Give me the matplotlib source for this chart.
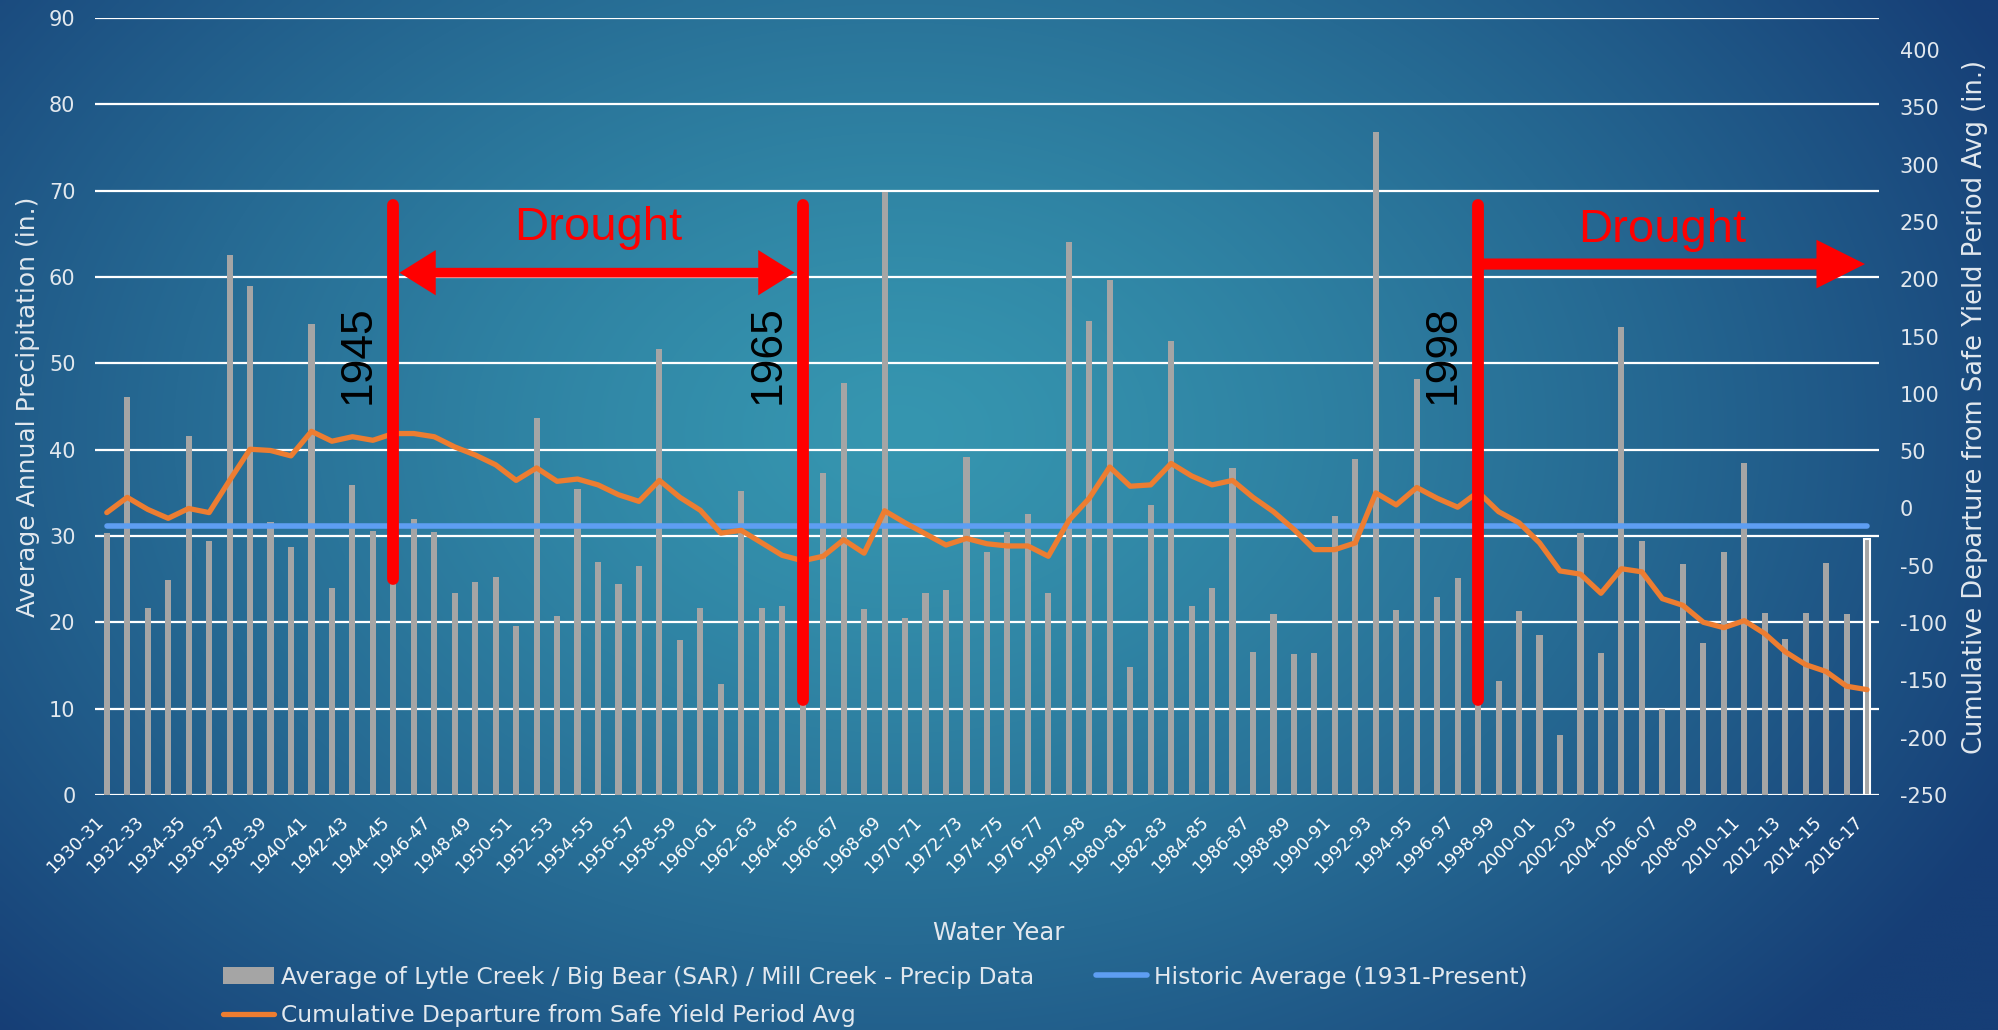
import numpy as np
import matplotlib
matplotlib.use("Agg")
import matplotlib.pyplot as plt

# =========================
# 1. Data
# =========================
# note: the source chart labels the 1978-79 slot as "1997-98", kept as is
WATER_YEARS = [
    "1930-31", "1931-32", "1932-33", "1933-34", "1934-35", "1935-36", "1936-37", "1937-38",
    "1938-39", "1939-40", "1940-41", "1941-42", "1942-43", "1943-44", "1944-45", "1945-46",
    "1946-47", "1947-48", "1948-49", "1949-50", "1950-51", "1951-52", "1952-53", "1953-54",
    "1954-55", "1955-56", "1956-57", "1957-58", "1958-59", "1959-60", "1960-61", "1961-62",
    "1962-63", "1963-64", "1964-65", "1965-66", "1966-67", "1967-68", "1968-69", "1969-70",
    "1970-71", "1971-72", "1972-73", "1973-74", "1974-75", "1975-76", "1976-77", "1977-78",
    "1997-98", "1979-80", "1980-81", "1981-82", "1982-83", "1983-84", "1984-85", "1985-86",
    "1986-87", "1987-88", "1988-89", "1989-90", "1990-91", "1991-92", "1992-93", "1993-94",
    "1994-95", "1995-96", "1996-97", "1997-98", "1998-99", "1999-00", "2000-01", "2001-02",
    "2002-03", "2003-04", "2004-05", "2005-06", "2006-07", "2007-08", "2008-09", "2009-10",
    "2010-11", "2011-12", "2012-13", "2013-14", "2014-15", "2015-16", "2016-17",
]

PRECIP = [
    30.4, 46.1, 21.7, 24.9, 41.6, 29.4, 62.6, 59.0, 31.6, 28.7,
    54.5, 24.0, 35.9, 30.6, 38.0, 32.0, 30.5, 23.4, 24.7, 25.3,
    19.6, 43.7, 20.7, 35.4, 27.0, 24.4, 26.5, 51.7, 18.0, 21.6,
    12.9, 35.2, 21.6, 21.9, 28.0, 37.3, 47.7, 21.5, 69.8, 20.5,
    23.4, 23.7, 39.2, 28.2, 30.5, 32.5, 23.4, 64.0, 54.9, 59.7,
    14.8, 33.6, 52.6, 21.9, 24.0, 37.9, 16.6, 21.0, 16.3, 16.4,
    32.3, 38.9, 76.8, 21.4, 48.2, 22.9, 25.1, 45.7, 13.2, 21.3,
    18.5, 7.0, 30.4, 16.5, 54.2, 29.4, 9.9, 26.8, 17.6, 28.2,
    38.5, 21.1, 18.1, 21.1, 26.9, 21.0, 29.7,
]

CUM_DEPARTURE = [
    -3.6, 9.7, -0.8, -8.6, 0.0, -3.6, 24.5, 51.7, 50.6, 45.9,
    67.3, 58.7, 62.6, 59.5, 65.4, 65.4, 62.6, 53.7, 46.7, 38.1,
    24.5, 35.4, 23.7, 25.7, 20.6, 12.0, 6.2, 24.5, 9.7, -1.6,
    -21.5, -19.1, -30.0, -40.9, -45.6, -41.7, -27.3, -39.0, -2.0, -12.5,
    -22.2, -31.9, -26.1, -30.8, -32.7, -32.7, -41.7, -10.5, 8.9, 36.2,
    19.4, 20.6, 39.3, 28.4, 20.6, 24.5, 9.7, -2.8, -18.3, -35.9,
    -35.9, -30.0, 13.6, 3.1, 18.3, 8.9, 1.1, 14.4, -2.8, -12.5,
    -30.0, -54.5, -57.3, -74.0, -52.6, -55.3, -78.7, -84.5, -99.3, -104.0,
    -97.9, -109.2, -125.0, -136.3, -142.3, -155.1, -158.1,
]

HISTORIC_AVG = 31.1

# drought markers: label, category slot of the marker, bottom of the marker (left-axis units)
MARKER_YEARS = ["1945", "1965", "1998"]
MARKER_SLOTS = [14, 34, 67]
MARKER_BOTTOM = [25.0, 11.0, 11.0]

LABEL_BARS = "Average of Lytle Creek / Big Bear (SAR) / Mill Creek - Precip Data"
LABEL_AVG = "Historic Average (1931-Present)"
LABEL_CUM = "Cumulative Departure from Safe Yield Period Avg"

# =========================
# 2. Style
# =========================
plt.rcParams["font.family"] = "DejaVu Sans"
plt.rcParams["axes.unicode_minus"] = False

BAR_COLOR = "#A5A5A5"
ORANGE = "#ED7D31"
BLUE = "#5E9EF2"
TXT = "#E2E8EE"
ANNOT_FONT = ["Liberation Sans", "DejaVu Sans"]

fig = plt.figure(figsize=(19.98, 10.30), dpi=100)
fig.patch.set_facecolor("#1B4A80")

# gradient slide background
yy, xx = np.mgrid[0:1:260j, 0:1:500j]
d = np.sqrt(((xx - 0.45) / 0.62) ** 2 + ((yy - 0.42) / 0.85) ** 2)
t = np.clip(d, 0, 1) ** 1.3
light = np.array([54, 150, 176]) / 255
dark = np.array([22, 62, 118]) / 255
img = light * (1 - t[..., None]) + dark * t[..., None]
bg = fig.add_axes([0, 0, 1, 1], zorder=-10)
bg.imshow(img, aspect="auto", extent=[0, 1, 0, 1], interpolation="bilinear")
bg.axis("off")

# =========================
# 3. Chart
# =========================
ax = fig.add_axes([0.0475, 0.2282, 0.8929, 0.7543], zorder=1)
ax.set_facecolor("none")
x = np.arange(len(WATER_YEARS))

bars = ax.bar(x, PRECIP, width=0.3, color=BAR_COLOR, zorder=2)
bars[-1].set_edgecolor("white")
bars[-1].set_linewidth(1.5)

avg_line, = ax.plot(x, np.full(len(x), HISTORIC_AVG), color=BLUE, lw=4,
                    solid_capstyle="round", zorder=3)

ax.set_xlim(-0.58, 86.58)
ax.set_ylim(0, 90)
ax.set_yticks(range(0, 91, 10))
ax.yaxis.grid(True, color="white", lw=1.6)
ax.set_axisbelow(True)
ax.set_xticks(x[::2])
ax.set_xticklabels(WATER_YEARS[::2], rotation=45, ha="right")
ax.tick_params(axis="x", length=0, pad=13, labelsize=12.5, labelcolor="white")
ax.tick_params(axis="y", length=0, pad=14, labelsize=15, labelcolor=TXT)
for s in ax.spines.values():
    s.set_visible(False)

ax2 = ax.twinx()
ax2.set_facecolor("none")
cum_line, = ax2.plot(x, CUM_DEPARTURE, color=ORANGE, lw=3.8,
                     solid_capstyle="round", solid_joinstyle="round")
ax2.set_ylim(-250, 428)
ax2.set_yticks(range(-250, 401, 50))
ax2.tick_params(axis="y", length=0, pad=15, labelsize=15, labelcolor=TXT)
for s in ax2.spines.values():
    s.set_visible(False)

# =========================
# 4. Drought annotations (drawn in left-axis units, on top of everything)
# =========================
for label, slot, bottom in zip(MARKER_YEARS, MARKER_SLOTS, MARKER_BOTTOM):
    ax2.plot([slot, slot], [bottom, 68.3], transform=ax.transData,
             color="red", lw=8.5, solid_capstyle="round", zorder=5)
    ax2.text(slot - 1.7, 51, label, transform=ax.transData, rotation=90,
             ha="center", va="center", fontsize=32, color="black",
             family=ANNOT_FONT, zorder=6)

ax2.annotate("", xy=(33.6, 60.5), xytext=(14.3, 60.5),
             xycoords=ax.transData, textcoords=ax.transData,
             arrowprops=dict(arrowstyle="<|-|>,head_length=1.6,head_width=1.0",
                             mutation_scale=10, color="red", lw=7,
                             joinstyle="miter", capstyle="butt",
                             shrinkA=0, shrinkB=0), zorder=5)
ax2.annotate("", xy=(85.9, 61.5), xytext=(67, 61.5),
             xycoords=ax.transData, textcoords=ax.transData,
             arrowprops=dict(arrowstyle="-|>,head_length=2.2,head_width=1.1",
                             mutation_scale=10, color="red", lw=8,
                             joinstyle="miter", capstyle="butt",
                             shrinkA=0, shrinkB=0), zorder=5)
ax2.text(24.0, 64.3, "Drought", transform=ax.transData, ha="center",
         va="baseline", fontsize=34, color="red", family=ANNOT_FONT)
ax2.text(76.0, 64.1, "Drought", transform=ax.transData, ha="center",
         va="baseline", fontsize=34, color="red", family=ANNOT_FONT)

# =========================
# 5. Titles and legend
# =========================
fig.text(28 / 1998, 0.605, "Average Annual Precipitation (in.)", rotation=90,
         ha="center", va="center", fontsize=18, color=TXT)
fig.text(1975 / 1998, 0.605, "Cumulative Departure from Safe Yield Period Avg (in.)",
         rotation=90, ha="center", va="center", fontsize=18.5, color=TXT)
fig.text(0.5, 0.094, "Water Year", ha="center", va="center", fontsize=17.5, color=TXT)

leg_kw = dict(loc="upper left", frameon=False, fontsize=16.8, handlelength=2.2,
              handletextpad=0.3, labelspacing=0.65, borderpad=0, borderaxespad=0,
              labelcolor=TXT)
fig.legend([bars, cum_line], [LABEL_BARS, LABEL_CUM],
           bbox_to_anchor=(0.1116, 0.0625), **leg_kw)
fig.legend([avg_line], [LABEL_AVG], bbox_to_anchor=(0.5485, 0.0625), **leg_kw)

fig.savefig("out.png", dpi=100)
